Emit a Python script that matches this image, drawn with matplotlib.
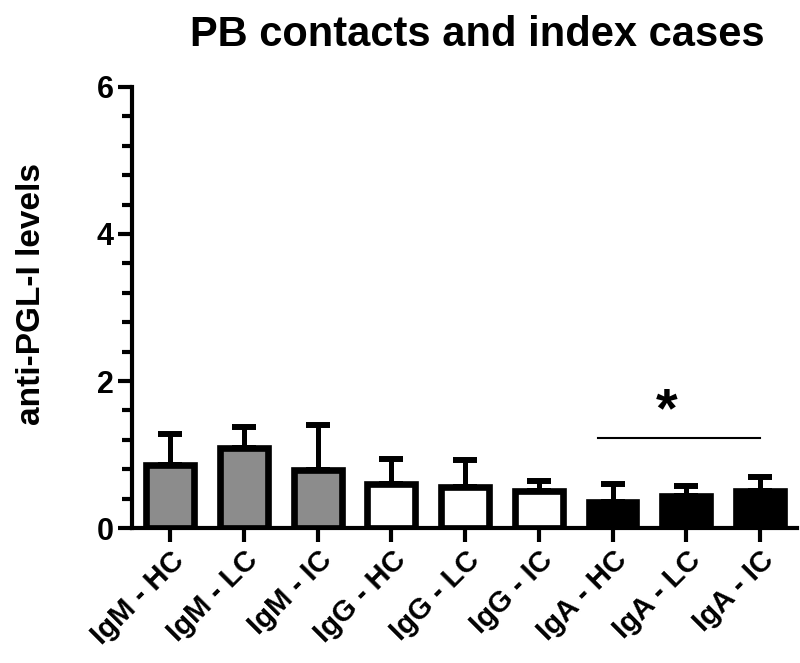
import matplotlib
matplotlib.use("Agg")
import matplotlib.pyplot as plt
import numpy as np

categories = ["IgM - HC", "IgM - LC", "IgM - IC",
              "IgG - HC", "IgG - LC", "IgG - IC",
              "IgA - HC", "IgA - LC", "IgA - IC"]
means = [0.86, 1.09, 0.79, 0.60, 0.56, 0.50, 0.36, 0.43, 0.50]
upper = [1.28, 1.37, 1.40, 0.94, 0.93, 0.64, 0.60, 0.57, 0.69]
fills = ["#8c8c8c"] * 3 + ["white"] * 3 + ["black"] * 3
sig_from, sig_to, sig_y = 6, 8, 1.23

plt.rcParams['font.family'] = ['Liberation Sans', 'DejaVu Sans']
plt.rcParams['font.weight'] = 'bold'

fig = plt.figure(figsize=(8, 6.63), dpi=100)
ax = fig.add_axes([0.165, 0.2036, 0.831, 0.6652])

x = np.arange(len(categories))
errs = np.array(upper) - np.array(means)
ax.errorbar(x, means, yerr=[np.zeros_like(errs), errs], fmt='none',
            ecolor='black', elinewidth=3.6, capsize=8.6, capthick=4.3, zorder=1)
ax.bar(x, means, width=0.65, color=fills, edgecolor='black', linewidth=4.8, zorder=2)

ax.plot([sig_from - 0.2, sig_to + 0.0], [sig_y, sig_y], color='black', lw=1.5)
ax.text((sig_from + sig_to) / 2 - 0.27, 1.57, "*", ha='center', va='center',
        fontsize=40, fontweight='bold')

ax.set_xlim(-0.52, 8.5)
ax.set_ylim(0, 6)
ax.set_yticks([0, 2, 4, 6])
ax.set_yticks(np.arange(0, 6.01, 0.4), minor=True)
ax.set_xticks(x)
ax.set_xticklabels(categories, rotation=45, ha='right', rotation_mode='anchor',
                   fontsize=21, fontweight='bold')
for lab in ax.get_yticklabels():
    lab.set_fontsize(22)
    lab.set_fontweight('bold')

for s in ['top', 'right']:
    ax.spines[s].set_visible(False)
for s in ['left', 'bottom']:
    ax.spines[s].set_linewidth(3)
ax.tick_params(axis='both', which='major', width=3, length=10, pad=3)
ax.tick_params(axis='y', which='minor', width=3, length=7)
ax.tick_params(axis='x', length=10)

ax.set_ylabel("anti-PGL-I levels", fontsize=24, fontweight='bold')
ax.yaxis.set_label_coords(-0.128, 0.53)
fig.text(477 / 800, 1 - 46 / 663, "PB contacts and index cases", fontsize=30,
         fontweight='bold', ha='center', va='baseline')

fig.savefig("out.png", dpi=100)
